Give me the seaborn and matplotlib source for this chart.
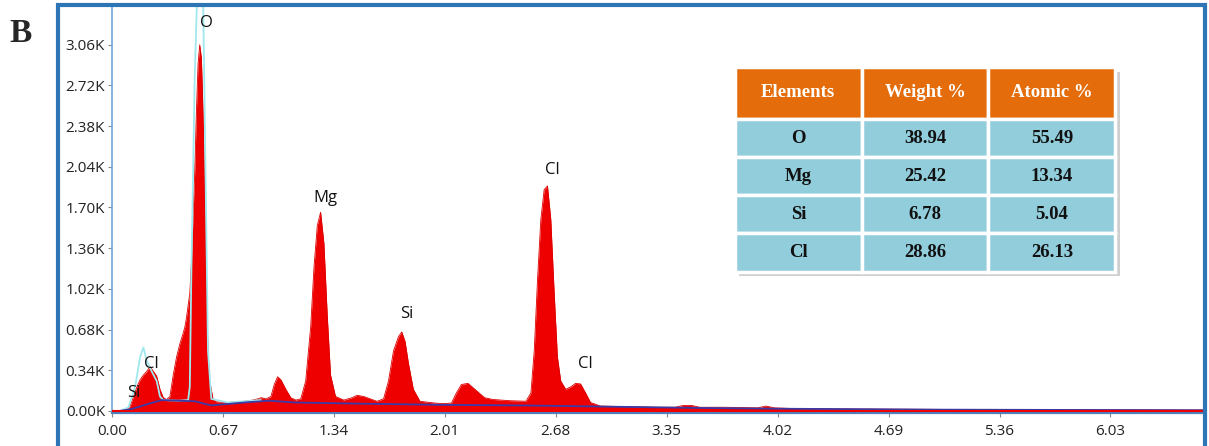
import matplotlib
matplotlib.use("Agg")
import matplotlib.pyplot as plt
import seaborn as sns
from matplotlib.patches import Rectangle

# EDS spectrum (energy in keV, counts)
energy = [0.00, 0.06, 0.09, 0.11, 0.13, 0.15, 0.17, 0.19, 0.21, 0.23, 0.25, 0.27,
          0.29, 0.31, 0.33, 0.35, 0.37, 0.39, 0.41, 0.43, 0.44, 0.45, 0.46, 0.47,
          0.48, 0.49, 0.50, 0.51, 0.52, 0.53, 0.54, 0.55, 0.56, 0.57, 0.58, 0.59,
          0.61, 0.63, 0.70, 0.80, 0.85, 0.88, 0.90, 0.93, 0.96, 0.98, 1.00, 1.02,
          1.05, 1.08, 1.11, 1.14, 1.17, 1.20, 1.22, 1.24, 1.26, 1.28, 1.30, 1.32,
          1.35, 1.40, 1.45, 1.48, 1.52, 1.56, 1.60, 1.64, 1.67, 1.70, 1.73, 1.75,
          1.77, 1.79, 1.82, 1.86, 1.95, 2.00, 2.05, 2.08, 2.11, 2.15, 2.20, 2.25,
          2.30, 2.40, 2.50, 2.53, 2.55, 2.57, 2.59, 2.61, 2.63, 2.65, 2.67, 2.69,
          2.71, 2.74, 2.77, 2.80, 2.83, 2.86, 2.89, 2.95, 3.10, 3.30, 3.40, 3.45,
          3.50, 3.55, 3.70, 3.90, 3.95, 4.00, 4.10, 4.50, 5.00, 5.50, 6.00, 6.60]
counts = [0, 0, 10, 40, 120, 200, 260, 300, 330, 370, 330, 290,
          180, 110, 95, 120, 300, 450, 560, 650, 700, 780, 880, 980,
          1250, 1650, 2000, 2500, 2900, 3060, 2950, 2500, 1800, 1000, 500, 250,
          100, 75, 70, 80, 90, 100, 110, 100, 120, 220, 285, 260,
          180, 110, 90, 100, 250, 700, 1200, 1550, 1660, 1400, 800, 300,
          120, 90, 110, 130, 120, 100, 80, 100, 250, 500, 620, 660,
          580, 400, 180, 80, 65, 60, 65, 150, 220, 230, 170, 110,
          95, 85, 80, 150, 500, 1100, 1600, 1850, 1880, 1600, 1000, 450,
          250, 180, 200, 230, 225, 150, 70, 40, 35, 30, 30, 45,
          45, 30, 30, 25, 40, 25, 20, 15, 12, 10, 8, 6]

# background (continuum) line
bg_energy = [0.05, 0.12, 0.20, 0.30, 0.40, 0.50, 0.60, 0.80, 0.95, 1.10, 1.50,
             2.00, 2.50, 3.00, 3.50, 4.00, 5.00, 6.60]
bg_counts = [0, 15, 50, 90, 85, 80, 45, 70, 85, 70, 60, 50, 45, 35, 25, 18, 10, 5]

# fitted curve at low energy, where it departs from the spectrum
fit_energy = [0.05, 0.10, 0.14, 0.17, 0.19, 0.21, 0.24, 0.27, 0.29, 0.31, 0.40,
              0.46, 0.47, 0.48, 0.50, 0.515, 0.55, 0.565, 0.58, 0.60, 0.70, 0.90]
fit_counts = [0, 30, 200, 450, 530, 420, 330, 250, 120, 90, 85,
              90, 200, 1200, 2800, 3500, 3500, 2000, 500, 100, 70, 90]

# peak labels (centre of each label)
peak_names = ["Si", "Cl", "O", "Mg", "Si", "Cl", "Cl"]
peak_x = [0.13, 0.24, 0.57, 1.29, 1.78, 2.66, 2.86]
peak_y = [150, 390, 3240, 1780, 810, 2010, 395]

y_ticks = [0, 340, 680, 1020, 1360, 1700, 2040, 2380, 2720, 3060]
x_ticks = [0.00, 0.67, 1.34, 2.01, 2.68, 3.35, 4.02, 4.69, 5.36, 6.03]

# composition table
elements = ["O", "Mg", "Si", "Cl"]
weight_pct = ["38.94", "25.42", "6.78", "28.86"]
atomic_pct = ["55.49", "13.34", "5.04", "26.13"]
col_labels = ["Elements", "Weight %", "Atomic %"]

sns.set_style("white")
plt.rcParams["font.family"] = ["Open Sans", "DejaVu Sans"]

fig = plt.figure(figsize=(12.09, 4.46), dpi=100)
ax = fig.add_axes([0.0926, 0.074, 0.904, 0.914])

ax.fill_between(energy, counts, 0, color="#ee0000", linewidth=0, zorder=2)
sns.lineplot(x=energy, y=counts, ax=ax, color="#dd0000", linewidth=0.6, zorder=3)
sns.lineplot(x=fit_energy, y=fit_counts, ax=ax, color="#9fe8ee", linewidth=1.3, zorder=4)
sns.lineplot(x=bg_energy, y=bg_counts, ax=ax, color="#3a3aa8", linewidth=1.3, zorder=5)
ax.axhline(0, color="#ee0000", linewidth=1.5, zorder=6)

for name, px, py in zip(peak_names, peak_x, peak_y):
    ax.text(px, py, name, ha="center", va="center", fontsize=12, color="#111111", zorder=7)

ax.set_xlim(0, 6.6)
ax.set_ylim(-18, 3390)
ax.set_xticks(x_ticks)
ax.set_xticklabels([f"{v:.2f}" for v in x_ticks])
ax.set_yticks(y_ticks)
ax.set_yticklabels([f"{v / 1000:.2f}K" for v in y_ticks])
ax.tick_params(axis="both", labelsize=11, length=3, width=0.8, color="#888888",
               labelcolor="#222222", left=True, bottom=True)
ax.tick_params(axis="x", pad=5)
ax.tick_params(axis="y", pad=2)

for side in ["top", "right"]:
    ax.spines[side].set_visible(False)
ax.spines["left"].set_color("#6fa8dc")
ax.spines["left"].set_linewidth(1.2)
ax.spines["bottom"].set_color("#4f81bd")
ax.spines["bottom"].set_linewidth(1.6)

# table with drop shadow
tb = [0.570, 0.347, 0.348, 0.502]
ax.add_patch(Rectangle((tb[0] + 0.004, tb[1] - 0.012), tb[2], tb[3], transform=ax.transAxes,
                       facecolor="#b0b0b0", edgecolor="none", alpha=0.6, zorder=8))
rows = [[e, w, a] for e, w, a in zip(elements, weight_pct, atomic_pct)]
table = ax.table(cellText=rows, colLabels=col_labels, cellLoc="center", bbox=tb)
table.set_zorder(9)
table.auto_set_font_size(False)
for (r, c), cell in table.get_celld().items():
    cell.set_edgecolor("white")
    cell.set_linewidth(2.5)
    txt = cell.get_text()
    txt.set_fontfamily("Liberation Serif")
    txt.set_fontweight("bold")
    txt.set_fontsize(13.5)
    if r == 0:
        cell.set_facecolor("#e46c0a")
        cell.set_height(0.13)
        txt.set_color("white")
    else:
        cell.set_facecolor("#92cddc")
        cell.set_height(0.095)
        txt.set_color("#111111")

# panel frame and label
fig.patches.append(Rectangle((0.048, -0.01), 0.949, 0.999, transform=fig.transFigure,
                             fill=False, edgecolor="#2e75b6", linewidth=3))
fig.text(0.008, 0.905, "B", fontsize=24, fontweight="bold", family="Liberation Serif")

fig.savefig("out.png", dpi=100)
